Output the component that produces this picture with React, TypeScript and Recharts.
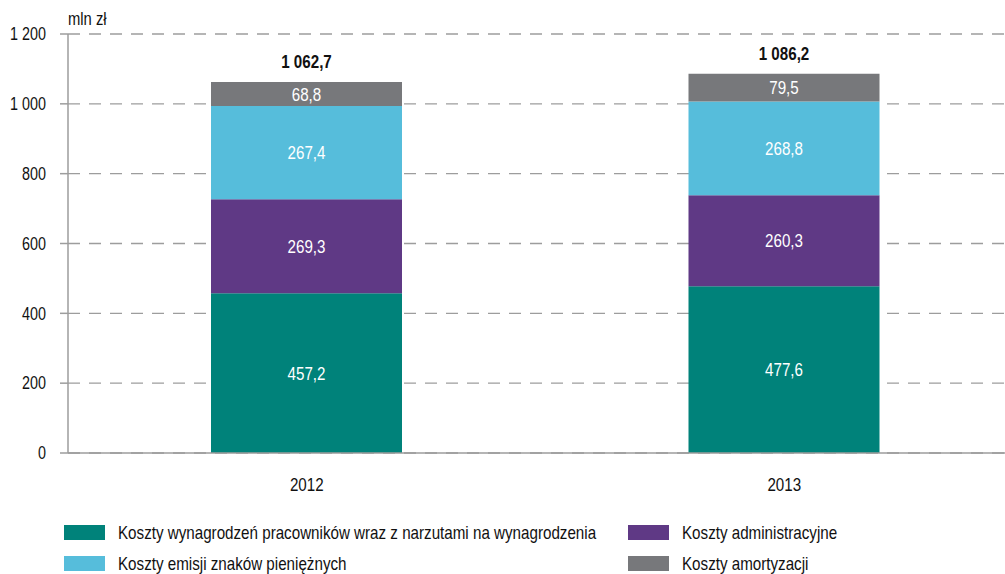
import React from "react";
import { BarChart, Bar, XAxis, YAxis, CartesianGrid, LabelList } from "recharts";

const years = ["2012", "2013"];
const wynagrodzenia = [457.2, 477.6];
const administracyjne = [269.3, 260.3];
const emisja = [267.4, 268.8];
const amortyzacja = [68.8, 79.5];
const totals = [1062.7, 1086.2];
const yTicks = [0, 200, 400, 600, 800, 1000, 1200];

const SERIES = [
  { key: "wyn", name: "Koszty wynagrodzeń pracowników wraz z narzutami na wynagrodzenia", color: "#00827a" },
  { key: "adm", name: "Koszty administracyjne", color: "#5f3985" },
  { key: "emi", name: "Koszty emisji znaków pieniężnych", color: "#56bddb" },
  { key: "amo", name: "Koszty amortyzacji", color: "#77787b" },
];

const data = years.map((year, i) => ({
  year,
  wyn: wynagrodzenia[i],
  adm: administracyjne[i],
  emi: emisja[i],
  amo: amortyzacja[i],
  total: totals[i],
}));

// no Arial Narrow in the sandbox, so squeeze Liberation Sans horizontally
const FONT = "'Liberation Sans', Arial, sans-serif";
const NARROW = 0.82;

const withSpaces = (v: number, digits: number) => {
  const [int, dec] = v.toFixed(digits).split(".");
  const grouped = int.replace(/\B(?=(\d{3})+(?!\d))/g, " ");
  return dec ? `${grouped},${dec}` : grouped;
};

const NarrowText = ({ x, y, anchor, dy, size, fill, bold, children }: any) => (
  <text
    x={0}
    y={0}
    dy={dy}
    transform={`translate(${x},${y}) scale(${NARROW},1)`}
    textAnchor={anchor}
    fontFamily={FONT}
    fontSize={size}
    fontWeight={bold ? "bold" : "normal"}
    fill={fill}
  >
    {children}
  </text>
);

const YTick = ({ x, y, payload }: any) => (
  <NarrowText x={x} y={y} anchor="end" dy="0.36em" size={17.5} fill="#111">
    {withSpaces(payload.value, 0)}
  </NarrowText>
);

const XTick = ({ x, y, payload }: any) => (
  <NarrowText x={x} y={y} anchor="middle" dy="0.71em" size={18.5} fill="#111">
    {payload.value}
  </NarrowText>
);

const ValueLabel = ({ x, y, width, height, value }: any) => (
  <NarrowText x={x + width / 2} y={y + height / 2} anchor="middle" dy="0.36em" size={18.5} fill="#fff">
    {withSpaces(Number(value), 1)}
  </NarrowText>
);

const TotalLabel = ({ x, y, width, value }: any) => (
  <NarrowText x={x + width / 2} y={y - 14} anchor="middle" dy={0} size={18.5} fill="#111" bold>
    {withSpaces(Number(value), 1)}
  </NarrowText>
);

const LEGEND_ORDER = [
  { s: SERIES[0], left: 64, top: 525 },
  { s: SERIES[1], left: 628, top: 525 },
  { s: SERIES[2], left: 64, top: 556 },
  { s: SERIES[3], left: 628, top: 556 },
];

export default function App() {
  return (
    <div
      style={{
        position: "absolute",
        left: 0,
        top: 0,
        width: 1005,
        height: 574,
        overflow: "hidden",
        background: "#fff",
        fontFamily: FONT,
      }}
    >
      <div
        style={{
          position: "absolute",
          left: 68,
          top: 9,
          fontSize: 18,
          color: "#111",
          transform: `scaleX(${NARROW})`,
          transformOrigin: "left",
        }}
      >
        mln zł
      </div>
      <BarChart
        width={1023}
        height={574}
        data={data}
        margin={{ top: 34, right: 0, left: 0, bottom: 91 }}
      >
        <CartesianGrid vertical={false} stroke="#9d9d9d" strokeWidth={1.4} strokeDasharray="12 9" />
        <XAxis
          dataKey="year"
          height={30}
          tickLine={false}
          tickSize={0}
          tickMargin={25}
          axisLine={{ stroke: "#9d9d9d", strokeWidth: 1.5 }}
          tick={<XTick />}
        />
        <YAxis
          width={68}
          domain={[0, 1200]}
          ticks={yTicks}
          interval={0}
          tickSize={8}
          tickMargin={14}
          axisLine={{ stroke: "#9d9d9d", strokeWidth: 1.5 }}
          tickLine={{ stroke: "#9d9d9d", strokeWidth: 1.5 }}
          tick={<YTick />}
        />
        {SERIES.map((s) => (
          <Bar key={s.key} dataKey={s.key} stackId="a" fill={s.color} barSize={191} isAnimationActive={false}>
            <LabelList dataKey={s.key} content={<ValueLabel />} />
            {s.key === "amo" && <LabelList dataKey="total" content={<TotalLabel />} />}
          </Bar>
        ))}
      </BarChart>
      {LEGEND_ORDER.map(({ s, left, top }) => (
        <div
          key={s.key}
          style={{ position: "absolute", left, top, display: "flex", alignItems: "center", height: 15 }}
        >
          <div style={{ width: 41, height: 15, background: s.color, flexShrink: 0 }} />
          <span
            style={{
              marginLeft: 13,
              fontSize: 18.5,
              lineHeight: "15px",
              color: "#111",
              whiteSpace: "nowrap",
              display: "inline-block",
              transform: `scaleX(${NARROW})`,
              transformOrigin: "left",
            }}
          >
            {s.name}
          </span>
        </div>
      ))}
    </div>
  );
}
